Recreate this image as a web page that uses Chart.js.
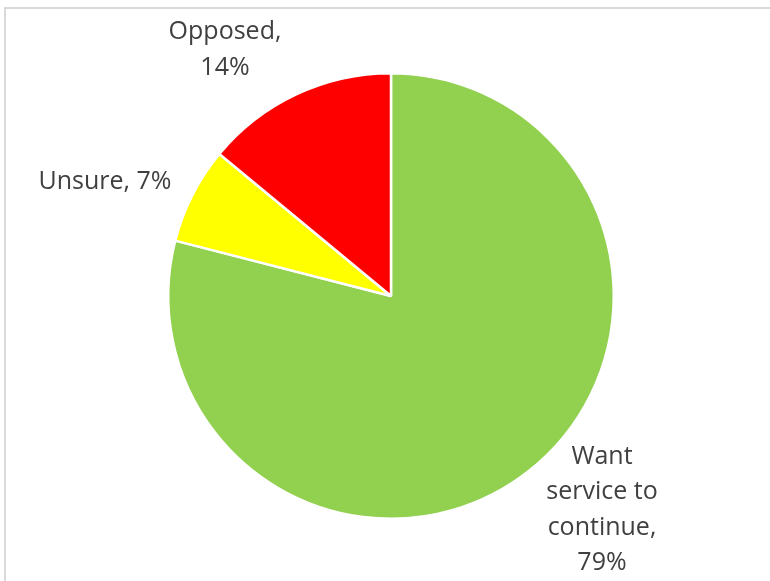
<!DOCTYPE html>
<html>
<head>
<meta charset="utf-8">
<script src="https://cdn.jsdelivr.net/npm/chart.js@4/dist/chart.umd.min.js"></script>
<style>
  html, body { margin: 0; padding: 0; background: #ffffff; }
  #wrap { position: relative; width: 770px; height: 581px; }
</style>
</head>
<body>
<div id="wrap"><canvas id="c" width="770" height="581"></canvas></div>
<script>
// Survey responses on the service
const categories = ['Want service to continue', 'Unsure', 'Opposed'];
const shares = [79, 7, 14];
const sliceColors = ['#92D050', '#FFFF00', '#FF0000'];
// Multi-line label text for each slice
const labelLines = [
  ['Want', 'service to', 'continue,', '79%'],
  ['Unsure, 7%'],
  ['Opposed,', '14%']
];
// Label anchor offsets from the pie centre (px)
const labelOffsets = [[211, 214], [-286, -114], [-166, -246]];

const frame = {
  id: 'frame',
  beforeDraw(chart) {
    const ctx = chart.ctx;
    ctx.save();
    ctx.fillStyle = '#ffffff';
    ctx.fillRect(0, 0, chart.width, chart.height);
    ctx.strokeStyle = '#d9d9d9';
    ctx.lineWidth = 2;
    ctx.strokeRect(5, 8, chart.width + 20, chart.height + 20);
    ctx.restore();
  }
};

const sliceLabels = {
  id: 'sliceLabels',
  afterDatasetsDraw(chart) {
    const ctx = chart.ctx;
    const meta = chart.getDatasetMeta(0);
    ctx.save();
    ctx.fillStyle = '#404040';
    ctx.font = '25px "Open Sans"';
    ctx.textAlign = 'center';
    ctx.textBaseline = 'middle';
    const lh = 35.5;
    meta.data.forEach((arc, i) => {
      const lines = labelLines[i];
      const cx = arc.x + labelOffsets[i][0];
      const cy = arc.y + labelOffsets[i][1];
      const y0 = cy - (lines.length - 1) * lh / 2;
      lines.forEach((t, k) => ctx.fillText(t, cx, y0 + k * lh));
    });
    ctx.restore();
  }
};

new Chart(document.getElementById('c'), {
  type: 'pie',
  data: {
    labels: categories,
    datasets: [{
      data: shares,
      backgroundColor: sliceColors,
      borderColor: '#ffffff',
      borderWidth: 2.5
    }]
  },
  options: {
    responsive: false,
    animation: false,
    layout: { padding: { top: 72, bottom: 61, left: 167, right: 155 } },
    plugins: {
      legend: { display: false },
      tooltip: { enabled: false }
    }
  },
  plugins: [frame, sliceLabels]
});
</script>
</body>
</html>
